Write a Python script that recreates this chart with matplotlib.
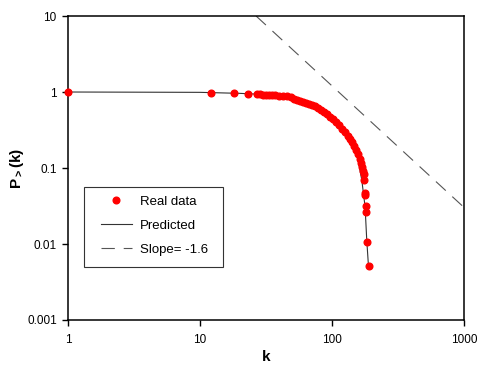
import numpy as np
import matplotlib
matplotlib.use('Agg')
import matplotlib.pyplot as plt
from matplotlib.patches import Rectangle
from matplotlib.ticker import FixedLocator, NullLocator, FixedFormatter

plt.rcParams['font.family'] = ['Liberation Sans', 'DejaVu Sans']
plt.rcParams['mathtext.fontset'] = 'custom'
plt.rcParams['mathtext.rm'] = 'Liberation Sans'
plt.rcParams['mathtext.bf'] = 'Liberation Sans:bold'

# Real data
k_real = [1, 12.1, 18.1, 23.1,
          27.0, 28.5, 30.0, 31.6, 33.3, 35.1, 37.0, 39.7, 42.5, 45.6,
          48.9, 51.5, 54.3, 57.2, 60.3, 63.5, 66.9, 70.5, 74.3, 78.3,
          82.5, 86.9, 91.6, 96.5, 101.8, 107.2, 113.0, 119.0, 125.4, 132.2,
          136.8, 141.8, 146.9, 152.1, 157.5, 163.0, 166.0, 168.8, 171.8, 174.7,
          174.7, 177.8, 177.8, 181.0, 181.0, 184.5, 189.0]
p_real = [1, 0.97, 0.965, 0.94,
          0.94, 0.94, 0.927, 0.927, 0.913, 0.913, 0.90, 0.886, 0.886, 0.873,
          0.847, 0.821, 0.796, 0.773, 0.750, 0.727, 0.706, 0.675, 0.645, 0.616,
          0.580, 0.546, 0.514, 0.476, 0.441, 0.403, 0.368, 0.331, 0.298, 0.264,
          0.241, 0.217, 0.195, 0.173, 0.153, 0.131, 0.116, 0.103, 0.0914, 0.0834,
          0.0695, 0.0469, 0.0441, 0.0316, 0.0264, 0.0106, 0.0051]

# Predicted curve
k_pred = [1, 10, 20, 30, 40, 50, 60, 70, 80, 90, 100, 110, 120, 130, 140,
          149.6, 157.5, 168, 177.8, 183, 188]
p_pred = [1, 0.99, 0.96, 0.93, 0.89, 0.845, 0.755, 0.68, 0.6, 0.525, 0.455,
          0.385, 0.325, 0.27, 0.22, 0.173, 0.127, 0.069, 0.031, 0.0114, 0.0056]

# Power law guide, slope -1.6
slope = -1.6
slope_coef = 1905
k_slope = [26.6, 1000]

xticks = [1, 10, 100, 1000]
xticklabels = ['1', '10', '100', '1000']
yticks = [0.001, 0.01, 0.1, 1, 10]
yticklabels = ['0.001', '0.01', '0.1', '1', '10']

fig = plt.figure(figsize=(4.85, 3.69), dpi=100)
ax = fig.add_axes([0.140, 0.1328, 0.817, 0.8238])

ax.plot(k_pred, p_pred, color='#333333', lw=0.8, label='Predicted', zorder=2)
ks = np.array(k_slope)
ax.plot(ks, slope_coef * ks ** slope, color='#555555', lw=0.8,
        dashes=(12, 8), label='Slope= -1.6', zorder=2)
ax.plot(k_real, p_real, 'o', color='red', ms=4.8, mec='red',
        label='Real data', zorder=3, clip_on=False)

ax.set_xscale('log')
ax.set_yscale('log')
ax.set_xlim(1, 1000)
ax.set_ylim(0.001, 10)
ax.xaxis.set_major_locator(FixedLocator(xticks))
ax.xaxis.set_major_formatter(FixedFormatter(xticklabels))
ax.yaxis.set_major_locator(FixedLocator(yticks))
ax.yaxis.set_major_formatter(FixedFormatter(yticklabels))
ax.xaxis.set_minor_locator(NullLocator())
ax.yaxis.set_minor_locator(NullLocator())
ax.tick_params(axis='x', direction='out', length=4, width=1, labelsize=8.5, pad=6)
ax.tick_params(axis='y', direction='out', length=4, width=1, labelsize=8.5, pad=4)
for s in ax.spines.values():
    s.set_linewidth(1.1)

ax.set_xlabel('k', fontsize=11, fontweight='bold', labelpad=3)
ax.set_ylabel(r'$\mathbf{P_{>}(k)}$', fontsize=11, labelpad=1)

handles, labels = ax.get_legend_handles_labels()
order = [2, 0, 1]
ax.legend([handles[i] for i in order], [labels[i] for i in order],
          loc='upper left', bbox_to_anchor=(0.0826, 0.41), borderaxespad=0,
          borderpad=0, frameon=False, fontsize=9.5, handlelength=2.4,
          handletextpad=0.55, labelspacing=0.9, numpoints=1)
ax.add_patch(Rectangle((0.041, 0.173), 0.3495, 0.2655, transform=ax.transAxes,
                       fill=False, edgecolor='#333333', lw=0.8, zorder=4))

fig.savefig('out.png', dpi=100)
